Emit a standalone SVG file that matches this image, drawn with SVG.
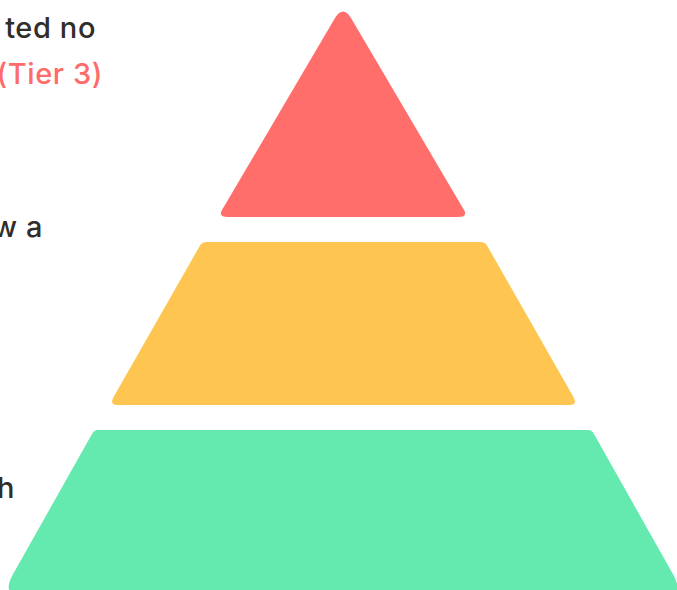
<svg xmlns="http://www.w3.org/2000/svg" width="677" height="590" viewBox="0 0 677 590">
<style>
.t{font-family:Inter,"Noto Sans","DejaVu Sans",sans-serif;font-size:29px;font-weight:500;letter-spacing:0.6px;fill:#302d2a;text-anchor:end}
.r{fill:#ff6b6b}
</style>
<rect width="677" height="590" fill="#fff"/>
<g id="labels">
<text class="t" x="96" y="38">ted no</text>
<text class="t r" x="103" y="84">(Tier 3)</text>
<text class="t" x="43" y="237">w a</text>
<text class="t" x="15" y="498">h</text>
</g>
<g id="tier3"><path fill="#ff6e6b" d="M228,217 L458,217 Q468,217 464,210 L351,18 Q343,5 335,18 L222,210 Q218,217 228,217 Z"/></g>
<g id="tier2"><path fill="#ffc551" d="M206,242 L481,242 Q485,242 487,245.5 L574,398 Q577,405 570,405 L117,405 Q110,405 113,398 L200,245.5 Q202,242 206,242 Z"/></g>
<g id="tier1"><path fill="#64e9ae" d="M98,430 L588,430 Q592,430 594,434 L674,576 Q684,596 664,596 L22,596 Q2,596 12,576 L92,434 Q94,430 98,430 Z"/></g>
<g id="connectors"/>
</svg>
